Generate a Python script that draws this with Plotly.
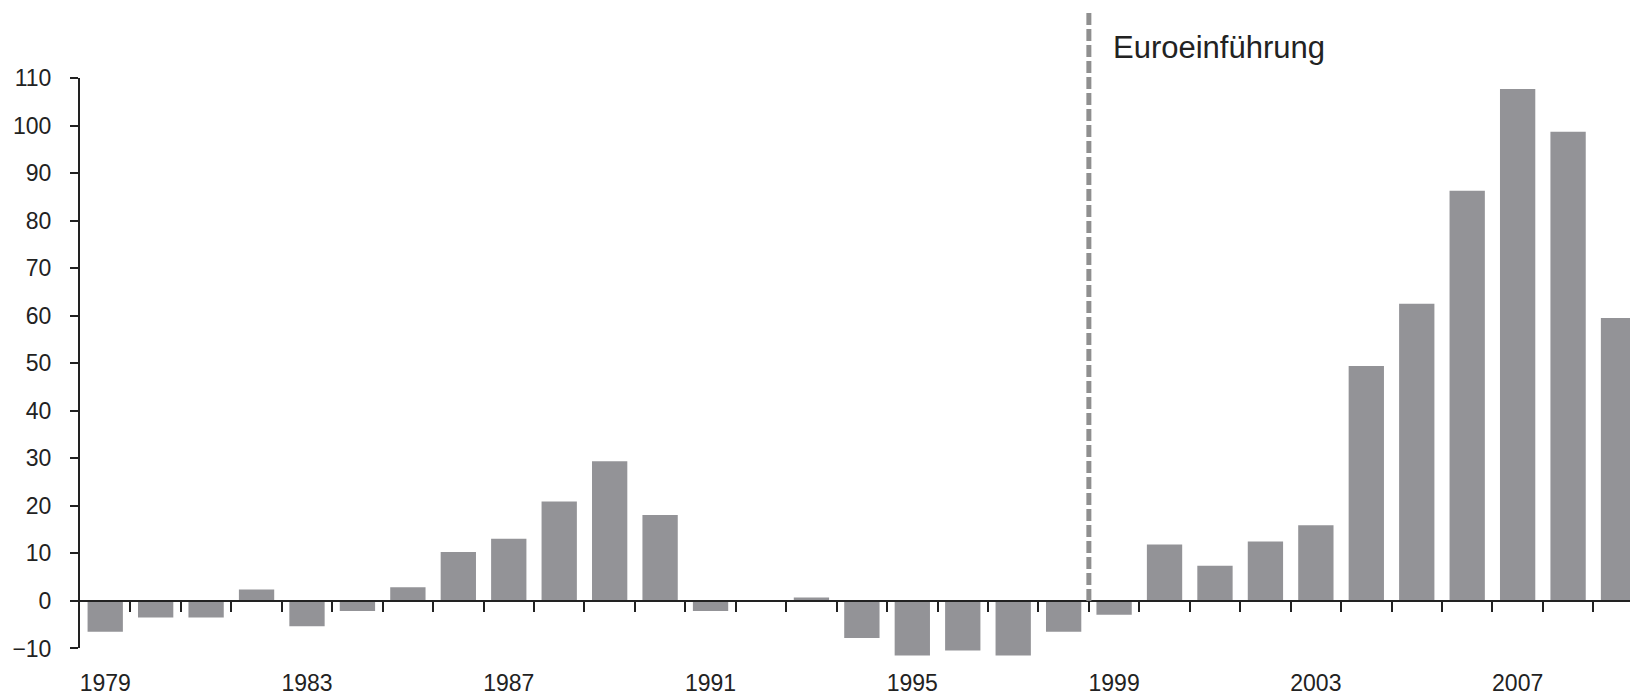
import plotly.graph_objects as go

years = list(range(1979, 2010))
values = [-6.5, -3.5, -3.5, 2.4, -5.3, -2.1, 2.9, 10.3, 13.1, 20.9,
          29.4, 18.1, -2.1, 0.0, 0.7, -7.8, -11.5, -10.4, -11.5, -6.5,
          -2.9, 11.9, 7.4, 12.5, 15.9, 49.4, 62.5, 86.3, 107.7, 98.7, 59.5]
label_years = [1979, 1983, 1987, 1991, 1995, 1999, 2003, 2007]
y_ticks = list(range(-10, 111, 10))
euro_year = 1999
annotation_text = "Euroeinführung"

boundaries = [y + 0.5 for y in years]
x_range = [years[0] - 0.5, years[-1] + 0.505]
axis_range = [y_ticks[0], y_ticks[-1]]
data_range = [-12, y_ticks[-1]]  # room for bars that dip below the -10 tick
span = data_range[1] - data_range[0]
axis_bottom = (axis_range[0] - data_range[0]) / span
zero_pos = (0 - data_range[0]) / span

FONT = "Liberation Sans, Arial, sans-serif"
DARK = "#222222"
CLEAR = "rgba(0,0,0,0)"

fig = go.Figure()
fig.add_trace(go.Bar(x=years, y=values, width=0.7,
                     marker=dict(color="#939397", line=dict(width=0)),
                     showlegend=False))
fig.add_trace(go.Scatter(x=[years[0]], y=[None], xaxis="x2", yaxis="y2",
                         mode="markers", showlegend=False, hoverinfo="skip"))

fig.update_layout(
    width=1638, height=696,
    margin=dict(l=72, r=2, t=70, b=46),
    paper_bgcolor="white", plot_bgcolor=CLEAR,
    font=dict(family=FONT, size=23, color=DARK),
    xaxis=dict(range=x_range, tickmode="array", tickvals=label_years,
               ticktext=[str(y) for y in label_years],
               ticks="", showline=False, showgrid=False, zeroline=False,
               ticklabelstandoff=9,
               tickfont=dict(family=FONT, size=23, color=DARK)),
    xaxis2=dict(range=x_range, overlaying="x", anchor="free",
                position=zero_pos, side="bottom", tickmode="array",
                tickvals=boundaries, showticklabels=False, ticks="outside",
                ticklen=10, tickwidth=2, tickcolor=DARK, showline=True,
                linewidth=2, linecolor=DARK, showgrid=False, zeroline=False,
                layer="above traces"),
    yaxis=dict(range=data_range, domain=[0, 1], showline=False,
               showticklabels=False, ticks="", showgrid=False,
               zeroline=False),
    yaxis2=dict(range=axis_range, domain=[axis_bottom, 1], anchor="x",
                tickmode="array", tickvals=y_ticks, showline=True,
                linewidth=2, linecolor=DARK, ticks="outside", ticklen=8,
                tickwidth=2, tickcolor=DARK, showgrid=False, zeroline=False,
                ticklabelstandoff=14, layer="above traces",
                tickfont=dict(family=FONT, size=23, color=DARK)),
    bargap=0.3,
)

fig.add_shape(type="line", xref="x", yref="paper",
              x0=euro_year - 0.5, x1=euro_year - 0.5, y0=zero_pos, y1=1.116,
              line=dict(color="#8f8f8f", width=5, dash="12px,4px"))
fig.add_annotation(xref="x", yref="paper", x=euro_year - 0.5, y=1.052,
                   xanchor="left", yanchor="middle", xshift=22,
                   text=annotation_text, showarrow=False,
                   font=dict(family=FONT, size=31, color=DARK))

fig.write_html("out.html")
